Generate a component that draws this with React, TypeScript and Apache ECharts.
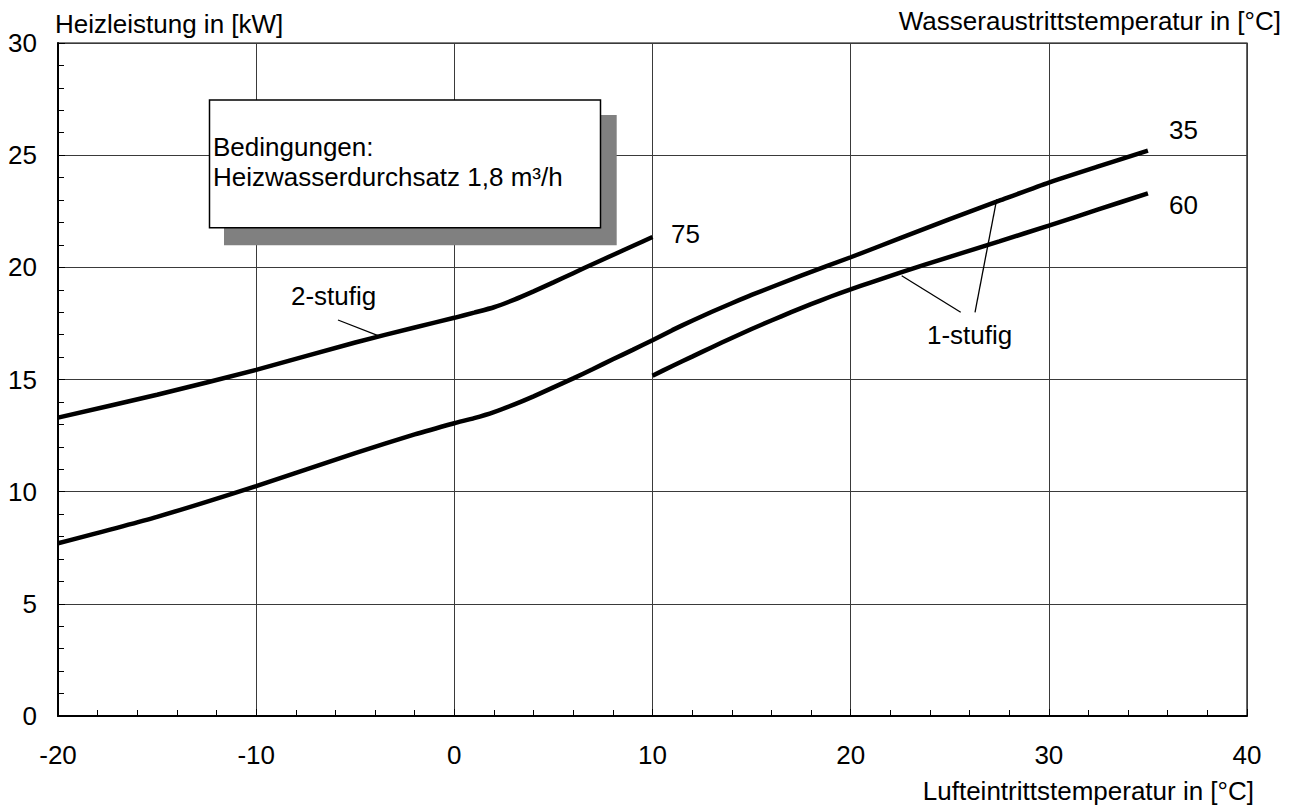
import React, { useEffect, useRef } from "react";
import * as echarts from "echarts";

const FONT = "'Liberation Sans', Arial, Helvetica, sans-serif";
const FS = 26;

// x axis: Lufteintrittstemperatur [°C]
const xMin = -20;
const xMax = 40;
const xStep = 10;
// y axis: Heizleistung [kW]
const yMin = 0;
const yMax = 30;
const yStep = 5;

// 2-stufig, Wasseraustrittstemperatur 75 °C
const curve75: [number, number][] = [
  [-20, 13.3], [-15, 14.32], [-10, 15.43], [-5, 16.65], [-2, 17.32], [0, 17.75],
  [1, 17.98], [2, 18.22], [3, 18.55], [4, 18.93], [5, 19.33], [6, 19.74],
  [7, 20.15], [8, 20.55], [9, 20.95], [10, 21.35],
];

// 35 °C (2-stufig below 10 °C, 1-stufig above)
const curve35: [number, number][] = [
  [-20, 7.7], [-15, 8.88], [-10, 10.25], [-5, 11.72], [-2, 12.55], [0, 13.05],
  [1, 13.28], [2, 13.55], [3, 13.88], [4, 14.25], [5, 14.65], [6, 15.05],
  [7, 15.47], [8, 15.9], [9, 16.32], [10, 16.75], [11, 17.2], [12, 17.62],
  [13, 18.02], [14, 18.4], [15, 18.77], [17.5, 19.63], [20, 20.45], [22.5, 21.3],
  [25, 22.15], [27.5, 22.97], [30, 23.78], [32.5, 24.5], [35, 25.2],
];

// 1-stufig, 60 °C
const curve60: [number, number][] = [
  [10, 15.17], [11, 15.6], [12, 16.02], [13, 16.44], [14, 16.85], [15, 17.25],
  [16, 17.63], [17, 18.0], [18, 18.36], [19, 18.7], [20, 19.02], [21, 19.32],
  [22.5, 19.76], [25, 20.47], [27.5, 21.16], [30, 21.86], [32.5, 22.58], [35, 23.3],
];

const yTitle = "Heizleistung in [kW]";
const rightTitle = "Wasseraustrittstemperatur in [°C]";
const xTitle = "Lufteintrittstemperatur in [°C]";
const boxLines = ["Bedingungen:", "Heizwasserdurchsatz 1,8 m³/h"];

function txt(text: string, x: number, y: number, align: string = "left") {
  return {
    type: "text",
    z: 100,
    style: {
      text,
      x,
      y,
      fill: "#000",
      fontSize: FS,
      fontFamily: FONT,
      align,
      verticalAlign: "middle",
    },
  };
}

function ln(x1: number, y1: number, x2: number, y2: number) {
  return {
    type: "line",
    z: 100,
    shape: { x1, y1, x2, y2 },
    style: { stroke: "#000", lineWidth: 1.3 },
  };
}

function lineSeries(name: string, data: [number, number][]) {
  return {
    name,
    type: "line",
    data,
    showSymbol: false,
    smooth: 0.2,
    lineStyle: { color: "#000", width: 4.5, cap: "butt" },
    z: 5,
  };
}

export default function App() {
  const ref = useRef<HTMLDivElement>(null);
  useEffect(() => {
    if (!ref.current) return;
    const chart = echarts.init(ref.current, undefined, { renderer: "svg" });
    chart.setOption({
      animation: false,
      backgroundColor: "#fff",
      grid: {
        left: 58,
        right: 51,
        top: 43,
        bottom: 91,
        show: true,
        borderColor: "#000",
        borderWidth: 1.2,
        backgroundColor: "transparent",
      },
      xAxis: {
        type: "value",
        min: xMin,
        max: xMax,
        interval: xStep,
        axisLine: { onZero: false, lineStyle: { color: "#000", width: 2 } },
        axisTick: { show: true, inside: true, length: 7, lineStyle: { color: "#000", width: 1 } },
        minorTick: { show: true, splitNumber: 5, length: 6, lineStyle: { color: "#000", width: 1 } },
        splitLine: { show: true, lineStyle: { color: "#3a3a3a", width: 1 } },
        axisLabel: { color: "#000", fontSize: FS, fontFamily: FONT, margin: 26 },
      },
      yAxis: {
        type: "value",
        min: yMin,
        max: yMax,
        interval: yStep,
        axisLine: { onZero: false, lineStyle: { color: "#000", width: 2 } },
        axisTick: { show: true, inside: true, length: 7, lineStyle: { color: "#000", width: 1 } },
        minorTick: { show: true, splitNumber: 5, length: 6, lineStyle: { color: "#000", width: 1 } },
        splitLine: { show: true, lineStyle: { color: "#3a3a3a", width: 1 } },
        axisLabel: { color: "#000", fontSize: FS, fontFamily: FONT, margin: 21 },
      },
      series: [
        lineSeries("75", curve75),
        lineSeries("35", curve35),
        lineSeries("60", curve60),
      ],
      graphic: [
        txt(yTitle, 55, 24),
        txt(rightTitle, 1281, 21, "right"),
        txt(xTitle, 1254, 791, "right"),
        {
          type: "rect",
          z: 99,
          shape: { x: 224, y: 115, width: 392.7, height: 130.3 },
          style: { fill: "#808080" },
        },
        {
          type: "rect",
          z: 100,
          shape: { x: 209.5, y: 100, width: 391, height: 127.7 },
          style: { fill: "#fff", stroke: "#000", lineWidth: 1.5 },
        },
        txt(boxLines[0], 213, 147),
        txt(boxLines[1], 213, 177),
        txt("75", 671, 234),
        txt("35", 1169, 130),
        txt("60", 1169, 205),
        txt("2-stufig", 291, 296),
        ln(338, 320, 380, 336.3),
        txt("1-stufig", 927, 335),
        ln(960.7, 312.3, 901.7, 275.7),
        ln(975, 312.3, 996.7, 199.3),
      ],
    });
    return () => chart.dispose();
  }, []);
  return (
    <div
      ref={ref}
      style={{ position: "absolute", left: 0, top: 0, width: 1298, height: 807, background: "#fff" }}
    />
  );
}
